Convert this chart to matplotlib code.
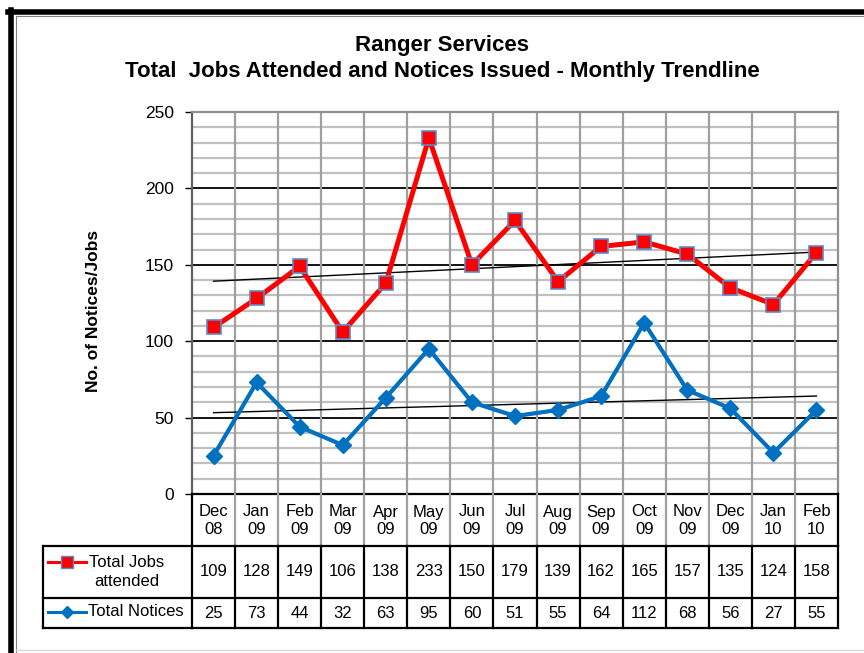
import numpy as np
import matplotlib
matplotlib.use("Agg")
import matplotlib.pyplot as plt
from matplotlib.lines import Line2D
from matplotlib.transforms import blended_transform_factory

plt.rcParams['font.family'] = ['Liberation Sans', 'DejaVu Sans']

months = ["Dec\n08", "Jan\n09", "Feb\n09", "Mar\n09", "Apr\n09", "May\n09", "Jun\n09", "Jul\n09",
          "Aug\n09", "Sep\n09", "Oct\n09", "Nov\n09", "Dec\n09", "Jan\n10", "Feb\n10"]
jobs = [109, 128, 149, 106, 138, 233, 150, 179, 139, 162, 165, 157, 135, 124, 158]
notices = [25, 73, 44, 32, 63, 95, 60, 51, 55, 64, 112, 68, 56, 27, 55]

W, H = 864, 653
fig = plt.figure(figsize=(W / 100, H / 100), dpi=100)


def fx(p):
    return p / W


def fy(p):
    return 1 - p / H


# plot area in pixels
L, R, T, B = 192, 838, 112, 494
ax = fig.add_axes([fx(L), fy(B), fx(R - L), (B - T) / H])

x = np.arange(len(months))
red, blue = "#ff0000", "#0070c0"
fs = 12

ax.plot(x, jobs, color=red, lw=3.6, marker="s", ms=9.5, mfc=red, mec="#5b8ac6", mew=1.2, zorder=5)
ax.plot(x, notices, color=blue, lw=3.0, marker="D", ms=8, mfc=blue, mec=blue, zorder=5)

# linear trendlines
for s in (jobs, notices):
    k, b = np.polyfit(x, s, 1)
    ax.plot(x, k * x + b, color="black", lw=1.0, zorder=4)

ax.set_xlim(-0.5, len(months) - 0.5)
ax.set_ylim(0, 250)
ax.set_yticks(np.arange(0, 251, 50))
ax.set_yticks(np.arange(0, 251, 10), minor=True)
ax.set_xticks([])
ax.tick_params(axis="y", which="major", labelsize=12.5, length=5, width=1, direction="out", pad=8)
ax.tick_params(axis="y", which="minor", length=0)
ax.grid(axis="y", which="minor", color="#c0c0c0", lw=1.6, zorder=0)
ax.grid(axis="y", which="major", color="black", lw=1.3, zorder=1)
for xb in np.arange(0.5, len(months) - 0.5, 1):
    ax.axvline(xb, color="#a0a0a0", lw=1.6, zorder=1)
ax.set_axisbelow(True)
for side in ("top", "right"):
    ax.spines[side].set_color("#909090")
    ax.spines[side].set_linewidth(1.6)
ax.spines["left"].set_color("#606060")
ax.spines["left"].set_linewidth(1.6)
ax.spines["bottom"].set_color("black")
ax.spines["bottom"].set_linewidth(1.6)

fig.text(fx(93), fy(311), "No. of Notices/Jobs", rotation=90, ha="center", va="center",
         fontsize=12.5, fontweight="bold")

fig.text(fx(442), fy(45), "Ranger Services", ha="center", va="center", fontsize=16, fontweight="bold")
fig.text(fx(442), fy(72), "Total  Jobs Attended and Notices Issued - Monthly Trendline",
         ha="center", va="center", fontsize=16, fontweight="bold")

# data table under the chart
tr = blended_transform_factory(ax.transData, fig.transFigure)
r0, r1, r2, r3 = 494, 546, 598, 628
for i in range(len(months) + 1):
    xb = i - 0.5
    fig.add_artist(Line2D([xb, xb], [fy(r0), fy(r1)], transform=tr,
                          color="black" if i in (0, len(months)) else "#a0a0a0", lw=1.6))
    fig.add_artist(Line2D([xb, xb], [fy(r1), fy(r3)], transform=tr, color="black", lw=1.6))
for r in (r1, r2, r3):
    fig.add_artist(Line2D([fx(43), fx(R)], [fy(r), fy(r)], color="black", lw=1.6))
fig.add_artist(Line2D([fx(43), fx(43)], [fy(r1), fy(r3)], color="black", lw=1.6))

for i, m in enumerate(months):
    fig.text(i, fy(521), m, transform=tr, ha="center", va="center",
             fontsize=fs, linespacing=1.25)
    fig.text(i, fy(572), str(jobs[i]), transform=tr, ha="center", va="center", fontsize=fs)
    fig.text(i, fy(613), str(notices[i]), transform=tr, ha="center", va="center", fontsize=fs)

# legend keys inside the table
fig.add_artist(Line2D([fx(48), fx(86)], [fy(562), fy(562)], color=red, lw=2.2))
fig.add_artist(Line2D([fx(67)], [fy(562)], marker="s", ms=8, mfc=red, mec="#5b8ac6", mew=1.0, lw=0))
fig.text(fx(127), fy(572), "Total Jobs\nattended", ha="center", va="center", fontsize=fs, linespacing=1.3)
fig.add_artist(Line2D([fx(48), fx(86)], [fy(612), fy(612)], color=blue, lw=2.2))
fig.add_artist(Line2D([fx(67)], [fy(612)], marker="D", ms=6.5, mfc=blue, mec=blue, lw=0))
fig.text(fx(88), fy(612), "Total Notices", ha="left", va="center", fontsize=fs)

# frame around the whole chart
fig.add_artist(Line2D([fx(10.5), fx(10.5)], [fy(10), 0], color="black", lw=4))
fig.add_artist(Line2D([fx(8), 1], [fy(11.5), fy(11.5)], color="black", lw=4))
fig.add_artist(Line2D([fx(15.5), fx(15.5)], [fy(15.5), 0], color="#808080", lw=0.8))
fig.add_artist(Line2D([fx(15.5), 1], [fy(15.5), fy(15.5)], color="#808080", lw=0.8))
fig.add_artist(Line2D([fx(15.5), 1], [fy(650), fy(650)], color="#d8d8d8", lw=1))

fig.savefig("out.png", dpi=100)
